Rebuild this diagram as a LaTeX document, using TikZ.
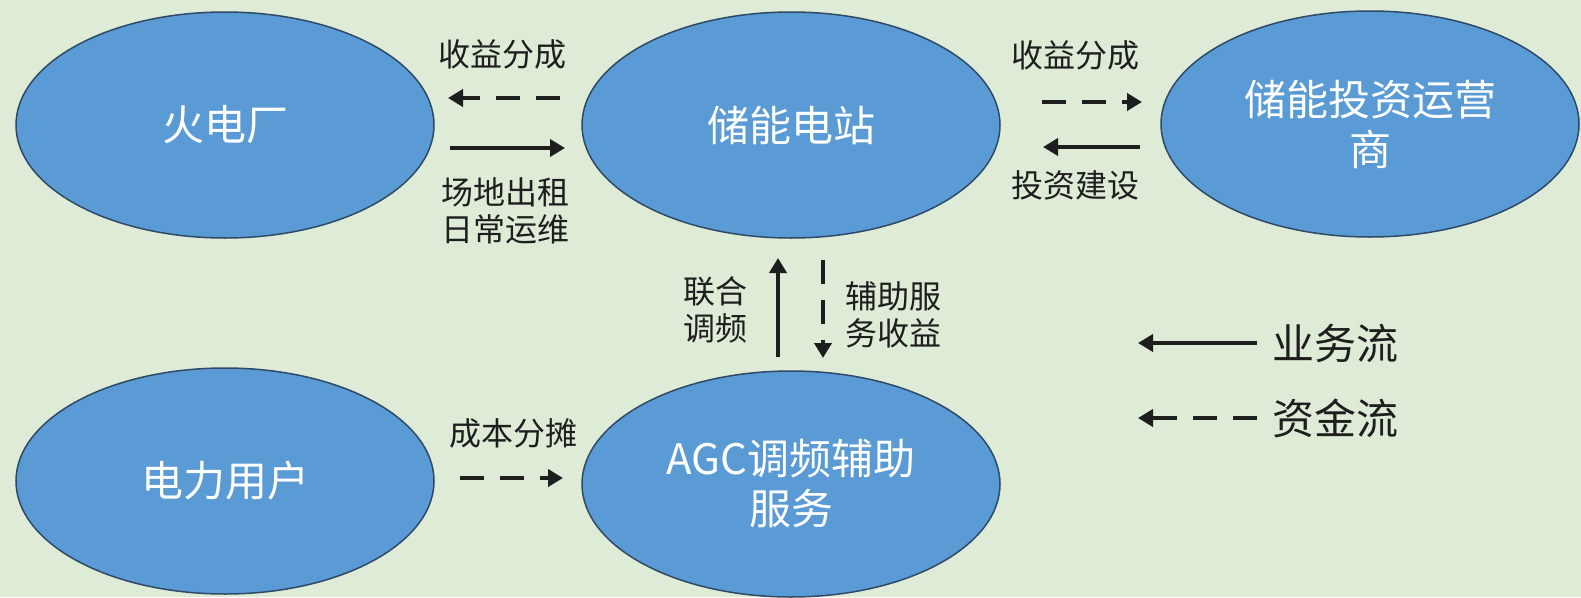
\documentclass[tikz,border=0pt]{standalone}
\usepackage{fontspec}
\setmainfont{Noto Sans CJK SC}
\usetikzlibrary{shapes.geometric,arrows.meta}
\definecolor{bg}{HTML}{DEEBD7}
\definecolor{ellfill}{HTML}{5B9BD5}
\definecolor{ellline}{HTML}{2E4A66}
\definecolor{ink}{HTML}{1E1E1E}
\begin{document}
\begin{tikzpicture}[x=1pt,y=-1pt,
 ent/.style={ellipse, draw=ellline, line width=1.5pt, fill=ellfill, minimum width=418pt, minimum height=226pt, inner sep=0pt, text=white, font=\fontsize{42}{50}\selectfont, align=center},
 lbl/.style={text=ink, font=\fontsize{32}{37}\selectfont, align=center, inner sep=0pt},
 leg/.style={text=ink, font=\fontsize{42}{50}\selectfont, inner sep=0pt},
 biz/.style={draw=ink, line width=4.5pt, -{Triangle[length=15pt,width=17pt]}},
 cash/.style={biz, dash pattern=on 24pt off 16pt},
]
\fill[bg] (0,0) rectangle (1581,597);
\useasboundingbox (0,0) rectangle (1581,597);

\node[ent] (huo) at (225,125) {火电厂};
\node[ent] (cn) at (791,125) {储能电站};
\node[ent] (tz) at (1370,124) {储能投资运营\\商};
\node[ent] (yh) at (225,481) {电力用户};
\node[ent] (agc) at (791,484) {AGC调频辅助\\服务};

\node[lbl] (l1) at (502,54) {收益分成};
\node[lbl] (l2) at (505,211) {场地出租\\日常运维};
\node[lbl] (l3) at (1075,55) {收益分成};
\node[lbl] (l4) at (1075,185) {投资建设};
\node[lbl] (l5) at (715,310) {联合\\调频};
\node[lbl] (l6) at (893,315) {辅助服\\务收益};
\node[lbl] (l7) at (513,433) {成本分摊};
\node[leg] (g1) at (1335,343) {业务流};
\node[leg] (g2) at (1335,418) {资金流};

\coordinate (a1s) at (560,98);  \coordinate (a1e) at (448,98);
\coordinate (a2s) at (450,148); \coordinate (a2e) at (565,148);
\coordinate (a3s) at (1042,102); \coordinate (a3e) at (1142,102);
\coordinate (a4s) at (1140,147); \coordinate (a4e) at (1043,147);
\coordinate (a5s) at (778,357); \coordinate (a5e) at (778,258);
\coordinate (a6s) at (823,260); \coordinate (a6e) at (823,358);
\coordinate (a7s) at (460,478); \coordinate (a7e) at (563,478);
\coordinate (g1s) at (1257,343); \coordinate (g1e) at (1138,343);
\coordinate (g2s) at (1257,418); \coordinate (g2e) at (1138,418);

\draw[cash] (a1s) -- (a1e);
\draw[biz] (a2s) -- (a2e);
\draw[cash] (a3s) -- (a3e);
\draw[biz] (a4s) -- (a4e);
\draw[biz] (a5s) -- (a5e);
\draw[cash] (a6s) -- (a6e);
\draw[cash] (a7s) -- (a7e);
\draw[biz] (g1s) -- (g1e);
\draw[cash] (g2s) -- (g2e);
\end{tikzpicture}
\end{document}
